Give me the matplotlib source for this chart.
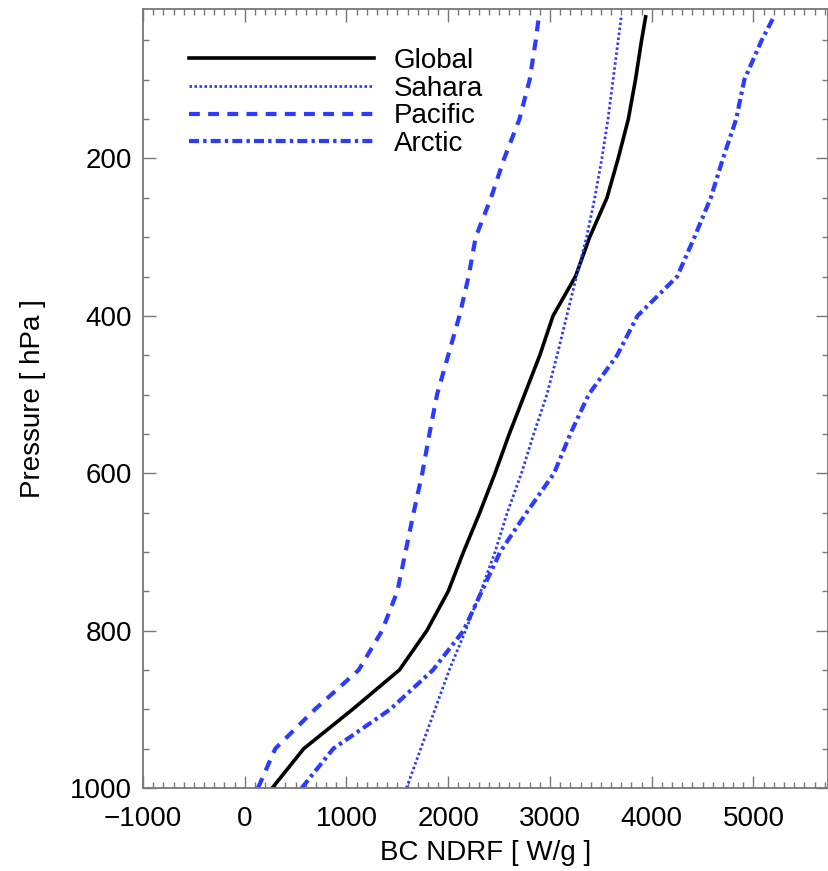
import matplotlib
matplotlib.use('Agg')
import matplotlib.pyplot as plt
import matplotlib.ticker as mticker

plt.rcParams['font.family'] = ['Liberation Sans', 'DejaVu Sans']

BLUE = '#2b3cff'
GRAY = '#777777'

# pressure levels (hPa)
pres = [1000, 950, 900, 850, 800, 750, 700, 650, 600, 550, 500,
        450, 400, 350, 300, 250, 200, 150, 100, 50, 20]

# BC NDRF [W/g] per region
glob = [270, 580, 1060, 1520, 1790, 2000, 2150, 2310, 2460, 2600, 2750,
        2900, 3030, 3250, 3390, 3560, 3670, 3770, 3840, 3900, 3940]
sahara = [1590, 1730, 1870, 2010, 2170, 2320, 2460, 2580, 2720, 2840, 2970,
          3070, 3165, 3260, 3360, 3440, 3510, 3570, 3620, 3670, 3700]
pacific = [130, 300, 690, 1120, 1350, 1500, 1580, 1660, 1745, 1815, 1890,
           2000, 2110, 2200, 2270, 2420, 2550, 2700, 2800, 2860, 2890]
arctic = [560, 870, 1430, 1850, 2150, 2330, 2510, 2770, 3040, 3200, 3380,
          3660, 3860, 4250, 4420, 4580, 4700, 4830, 4910, 5080, 5200]

fig = plt.figure(figsize=(8.29, 8.71), dpi=100)
ax = fig.add_axes([0.1725, 0.0953, 0.826, 0.8944])

ax.plot(glob, pres, color='black', lw=2.6, label='Global')
ax.plot(sahara, pres, color=BLUE, lw=2.0, linestyle=(0, (0.9, 0.9)), label='Sahara')
ax.plot(pacific, pres, color=BLUE, lw=3.0, linestyle=(0, (2.6, 2.0)), label='Pacific')
ax.plot(arctic, pres, color=BLUE, lw=3.0, linestyle=(0, (2.4, 1.0, 0.8, 1.0)), label='Arctic')

ax.set_xlim(-1000, 5730)
ax.set_ylim(1000, 10)
ax.set_xticks([-1000, 0, 1000, 2000, 3000, 4000, 5000])
ax.set_xticklabels(['\u22121000', '0', '1000', '2000', '3000', '4000', '5000'])
ax.set_yticks([200, 400, 600, 800, 1000])
ax.xaxis.set_minor_locator(mticker.MultipleLocator(100))
ax.yaxis.set_minor_locator(mticker.MultipleLocator(50))
ax.tick_params(which='both', direction='in', top=True, right=True, color=GRAY,
               width=1.0, labelsize=20)
ax.tick_params(axis='x', which='both', pad=13)
ax.tick_params(axis='y', which='both', pad=8)
ax.tick_params(which='major', length=9)
ax.tick_params(which='minor', length=4.5)
for s in ax.spines.values():
    s.set_color(GRAY)
    s.set_linewidth(1.3)

ax.set_xlabel('BC NDRF [ W/g ]', fontsize=20, labelpad=6)
ax.set_ylabel('Pressure [ hPa ]', fontsize=20, labelpad=17)

leg = ax.legend(loc='upper left', bbox_to_anchor=(0.051, 0.964), frameon=False,
                fontsize=20, handlelength=6.65, handletextpad=0.72, labelspacing=0.06,
                borderaxespad=0)

plt.savefig('out.png', dpi=100)
print("Saved: out.png")
